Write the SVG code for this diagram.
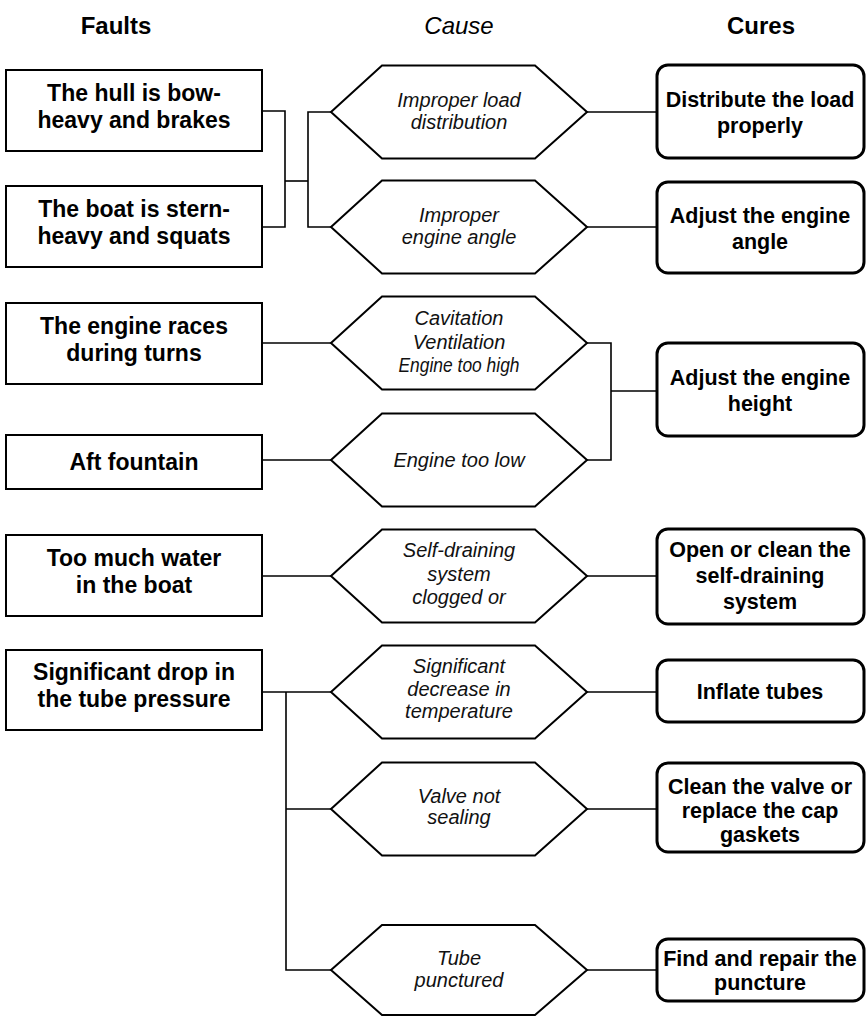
<svg xmlns="http://www.w3.org/2000/svg" width="866" height="1016" viewBox="0 0 866 1016">
<style>
.hdr{font-family:"Liberation Sans",Arial,sans-serif;font-size:24px;fill:#000;text-anchor:middle}
.fault rect{fill:#fff;stroke:#000;stroke-width:2}
.fault text{font-family:"Liberation Sans",Arial,sans-serif;font-size:23px;font-weight:bold;fill:#000;text-anchor:middle}
.cause polygon{fill:#fff;stroke:#000;stroke-width:2;stroke-linejoin:miter}
.cause text{font-family:"Liberation Sans",Arial,sans-serif;font-size:20px;font-style:italic;fill:#111;text-anchor:middle}
.cure rect{fill:#fff;stroke:#000;stroke-width:3}
.cure text{font-family:"Liberation Sans",Arial,sans-serif;font-size:21.5px;font-weight:bold;fill:#000;text-anchor:middle}
#connectors path{fill:none;stroke:#000;stroke-width:1.6}
</style>
<rect width="866" height="1016" fill="#fff"/>
<g id="headers">
<text class="hdr" x="116" y="34" font-weight="bold">Faults</text>
<text class="hdr" x="459" y="34" font-style="italic">Cause</text>
<text class="hdr" x="761" y="34" font-weight="bold">Cures</text>
</g>
<g id="connectors">
<path d="M262,111 H285 V227 H262"/>
<path d="M285,181 H308"/>
<path d="M331,112 H308 V227 H331"/>
<path d="M587,112 H656"/>
<path d="M587,227 H656"/>
<path d="M262,343 H331"/>
<path d="M262,460 H331"/>
<path d="M587,343 H611 V460 H587"/>
<path d="M611,391 H656"/>
<path d="M262,576 H331"/>
<path d="M587,576 H656"/>
<path d="M262,692 H331"/>
<path d="M286,692 V970 H331"/>
<path d="M286,809 H331"/>
<path d="M587,692 H656"/>
<path d="M587,809 H656"/>
<path d="M587,970 H656"/>
</g>
<g id="fault1" class="fault"><rect x="6" y="70" width="256" height="81"/><text x="134" y="101">The hull is bow-</text><text x="134" y="128">heavy and brakes</text></g>
<g id="fault2" class="fault"><rect x="6" y="186" width="256" height="81"/><text x="134" y="217">The boat is stern-</text><text x="134" y="244">heavy and squats</text></g>
<g id="fault3" class="fault"><rect x="6" y="303" width="256" height="81"/><text x="134" y="334">The engine races</text><text x="134" y="361">during turns</text></g>
<g id="fault4" class="fault"><rect x="6" y="435" width="256" height="54"/><text x="134" y="470">Aft fountain</text></g>
<g id="fault5" class="fault"><rect x="6" y="535" width="256" height="81"/><text x="134" y="566">Too much water</text><text x="134" y="593">in the boat</text></g>
<g id="fault6" class="fault"><rect x="6" y="650" width="256" height="80"/><text x="134" y="680">Significant drop in</text><text x="134" y="707">the tube pressure</text></g>
<g id="cause1" class="cause"><polygon points="331,112 382,65.5 535,65.5 587,112 535,158.5 382,158.5"/><text x="459" y="107">Improper load</text><text x="459" y="129">distribution</text></g>
<g id="cause2" class="cause"><polygon points="331,227 382,180.5 535,180.5 587,227 535,273.5 382,273.5"/><text x="459" y="222">Improper</text><text x="459" y="244">engine angle</text></g>
<g id="cause3" class="cause"><polygon points="331,343 382,296.5 535,296.5 587,343 535,389.5 382,389.5"/><text x="459" y="325">Cavitation</text><text x="459" y="349">Ventilation</text><text x="459" y="372" textLength="121" lengthAdjust="spacingAndGlyphs">Engine too high</text></g>
<g id="cause4" class="cause"><polygon points="331,460 382,413.5 535,413.5 587,460 535,506.5 382,506.5"/><text x="459" y="467">Engine too low</text></g>
<g id="cause5" class="cause"><polygon points="331,576 382,529.5 535,529.5 587,576 535,622.5 382,622.5"/><text x="459" y="557">Self-draining</text><text x="459" y="581">system</text><text x="459" y="604">clogged or</text></g>
<g id="cause6" class="cause"><polygon points="331,692 382,645.5 535,645.5 587,692 535,738.5 382,738.5"/><text x="459" y="673">Significant</text><text x="459" y="696">decrease in</text><text x="459" y="718">temperature</text></g>
<g id="cause7" class="cause"><polygon points="331,809 382,762.5 535,762.5 587,809 535,855.5 382,855.5"/><text x="459" y="803">Valve not</text><text x="459" y="824">sealing</text></g>
<g id="cause8" class="cause"><polygon points="331,970 382,925 535,925 587,970 535,1015 382,1015"/><text x="459" y="965">Tube</text><text x="459" y="987">punctured</text></g>
<g id="cure1" class="cure"><rect x="657" y="65" width="207" height="93" rx="11"/><text x="760" y="107">Distribute the load</text><text x="760" y="133">properly</text></g>
<g id="cure2" class="cure"><rect x="657" y="182" width="207" height="91" rx="11"/><text x="760" y="223">Adjust the engine</text><text x="760" y="249">angle</text></g>
<g id="cure3" class="cure"><rect x="657" y="343" width="207" height="93" rx="11"/><text x="760" y="385">Adjust the engine</text><text x="760" y="411">height</text></g>
<g id="cure4" class="cure"><rect x="657" y="529" width="207" height="95" rx="11"/><text x="760" y="557">Open or clean the</text><text x="760" y="583">self-draining</text><text x="760" y="609">system</text></g>
<g id="cure5" class="cure"><rect x="657" y="660" width="207" height="62" rx="11"/><text x="760" y="699">Inflate tubes</text></g>
<g id="cure6" class="cure"><rect x="657" y="763" width="207" height="89" rx="11"/><text x="760" y="794">Clean the valve or</text><text x="760" y="818">replace the cap</text><text x="760" y="842">gaskets</text></g>
<g id="cure7" class="cure"><rect x="657" y="939" width="207" height="62" rx="11"/><text x="760" y="966">Find and repair the</text><text x="760" y="990">puncture</text></g>
</svg>
